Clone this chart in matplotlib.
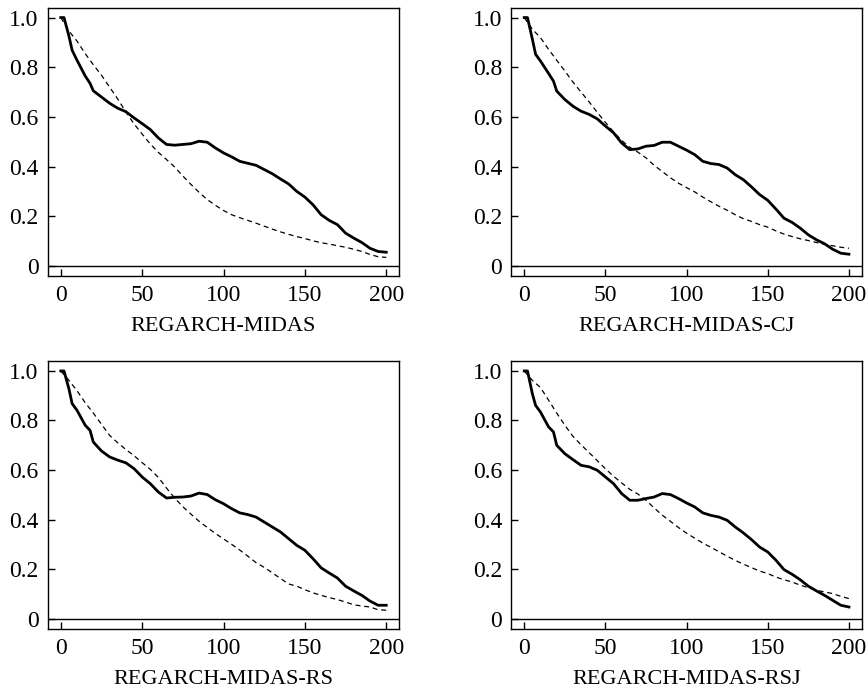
import matplotlib.pyplot as plt
import numpy as np

plt.rcParams['font.family'] = ['Liberation Serif', 'DejaVu Serif']

# 横軸
x_solid = [0, 2, 5, 7, 10, 15, 18, 20, 25, 30, 35, 40, 45, 50, 55, 60, 65, 70, 75, 80, 85, 90,
           95, 100, 105, 110, 115, 120, 125, 130, 135, 140, 145, 150, 155, 160, 165, 170,
           175, 180, 185, 190, 195, 200]
x_dash = [0, 5, 10, 15, 20, 25, 30, 35, 40, 45, 50, 55, 60, 65, 70, 75, 80, 85, 90, 95, 100,
          105, 110, 115, 120, 125, 130, 135, 140, 145, 150, 155, 160, 165, 170, 175, 180,
          185, 190, 195, 200]

titles = ['REGARCH-MIDAS', 'REGARCH-MIDAS-CJ', 'REGARCH-MIDAS-RS', 'REGARCH-MIDAS-RSJ']

# 実線 (solid)
s_midas = [1.0, 1.0, 0.926, 0.868, 0.828, 0.765, 0.735, 0.705, 0.680, 0.655, 0.635, 0.621,
           0.596, 0.573, 0.549, 0.515, 0.489, 0.486, 0.489, 0.492, 0.502, 0.498, 0.475,
           0.455, 0.439, 0.421, 0.413, 0.405, 0.388, 0.371, 0.350, 0.330, 0.300, 0.277,
           0.246, 0.206, 0.183, 0.166, 0.132, 0.112, 0.094, 0.071, 0.058, 0.055]
s_cj = [1.0, 1.0, 0.913, 0.852, 0.825, 0.775, 0.744, 0.704, 0.670, 0.643, 0.623, 0.610,
        0.592, 0.563, 0.536, 0.495, 0.468, 0.471, 0.482, 0.485, 0.498, 0.498, 0.482,
        0.466, 0.448, 0.421, 0.412, 0.408, 0.394, 0.367, 0.347, 0.318, 0.287, 0.264,
        0.229, 0.192, 0.175, 0.152, 0.125, 0.105, 0.089, 0.067, 0.051, 0.047]
s_rs = [1.0, 1.0, 0.928, 0.868, 0.841, 0.781, 0.760, 0.713, 0.677, 0.653, 0.640, 0.629,
        0.606, 0.572, 0.545, 0.511, 0.487, 0.490, 0.491, 0.495, 0.507, 0.501, 0.480,
        0.464, 0.444, 0.427, 0.420, 0.410, 0.390, 0.370, 0.350, 0.323, 0.296, 0.276,
        0.242, 0.205, 0.184, 0.164, 0.131, 0.112, 0.094, 0.071, 0.054, 0.054]
s_rsj = [1.0, 1.0, 0.908, 0.861, 0.834, 0.774, 0.754, 0.700, 0.666, 0.642, 0.619, 0.613,
         0.599, 0.572, 0.545, 0.505, 0.478, 0.478, 0.485, 0.491, 0.505, 0.501, 0.485,
         0.467, 0.451, 0.427, 0.417, 0.410, 0.397, 0.370, 0.346, 0.319, 0.289, 0.269,
         0.236, 0.198, 0.179, 0.157, 0.131, 0.112, 0.094, 0.074, 0.054, 0.047]

# 破線 (dashed)
d_midas = [1.0, 0.946, 0.905, 0.855, 0.810, 0.768, 0.720, 0.672, 0.620, 0.572, 0.531, 0.491,
           0.457, 0.428, 0.398, 0.362, 0.328, 0.296, 0.267, 0.244, 0.223, 0.206, 0.194,
           0.183, 0.172, 0.160, 0.148, 0.137, 0.127, 0.118, 0.110, 0.101, 0.093, 0.088,
           0.081, 0.075, 0.067, 0.058, 0.046, 0.037, 0.034]
d_cj = [1.0, 0.953, 0.919, 0.872, 0.828, 0.785, 0.740, 0.700, 0.660, 0.618, 0.578, 0.540,
        0.505, 0.478, 0.458, 0.435, 0.405, 0.380, 0.355, 0.333, 0.315, 0.298, 0.277,
        0.258, 0.240, 0.224, 0.206, 0.190, 0.179, 0.166, 0.156, 0.141, 0.128, 0.118,
        0.109, 0.102, 0.094, 0.087, 0.081, 0.075, 0.071]
d_rs = [1.0, 0.962, 0.920, 0.872, 0.830, 0.785, 0.740, 0.710, 0.683, 0.658, 0.630, 0.603,
        0.570, 0.527, 0.487, 0.452, 0.422, 0.393, 0.368, 0.344, 0.322, 0.300, 0.277,
        0.252, 0.226, 0.207, 0.185, 0.162, 0.140, 0.131, 0.117, 0.104, 0.094, 0.085,
        0.077, 0.067, 0.056, 0.051, 0.047, 0.036, 0.034]
d_rsj = [1.0, 0.962, 0.933, 0.882, 0.830, 0.781, 0.736, 0.702, 0.670, 0.638, 0.605, 0.575,
         0.548, 0.522, 0.503, 0.478, 0.447, 0.418, 0.393, 0.368, 0.345, 0.325, 0.305,
         0.288, 0.270, 0.252, 0.235, 0.220, 0.206, 0.192, 0.182, 0.168, 0.157, 0.148,
         0.135, 0.125, 0.114, 0.108, 0.101, 0.090, 0.081]

solids = [s_midas, s_cj, s_rs, s_rsj]
dashes = [d_midas, d_cj, d_rs, d_rsj]

xticks = [0, 50, 100, 150, 200]
yticks = [0, 0.2, 0.4, 0.6, 0.8, 1.0]
ytick_labels = ['0', '0.2', '0.4', '0.6', '0.8', '1.0']

fig = plt.figure(figsize=(8.68, 6.93), dpi=100)
pos = [[0.055, 0.602, 0.405, 0.387],
       [0.589, 0.602, 0.404, 0.387],
       [0.055, 0.093, 0.405, 0.386],
       [0.589, 0.093, 0.404, 0.386]]

for i in range(4):
    ax = fig.add_axes(pos[i])
    ax.plot(x_dash, dashes[i], color='black', lw=0.9, linestyle=(0, (4, 3)))
    ax.plot(x_solid, solids[i], color='black', lw=2.0)
    ax.axhline(0, color='black', lw=1.0)
    ax.set_xlim(-8, 208)
    ax.set_ylim(-0.04, 1.04)
    ax.set_xticks(xticks)
    ax.set_yticks(yticks)
    ax.set_yticklabels(ytick_labels)
    ax.tick_params(direction='in', length=5, width=1, labelsize=17, pad=6.5)
    ax.tick_params(axis='x', pad=6.5)
    for sp in ax.spines.values():
        sp.set_linewidth(1.0)
    ax.set_xlabel(titles[i], fontsize=16, labelpad=8)

plt.savefig('out.png', dpi=100)
